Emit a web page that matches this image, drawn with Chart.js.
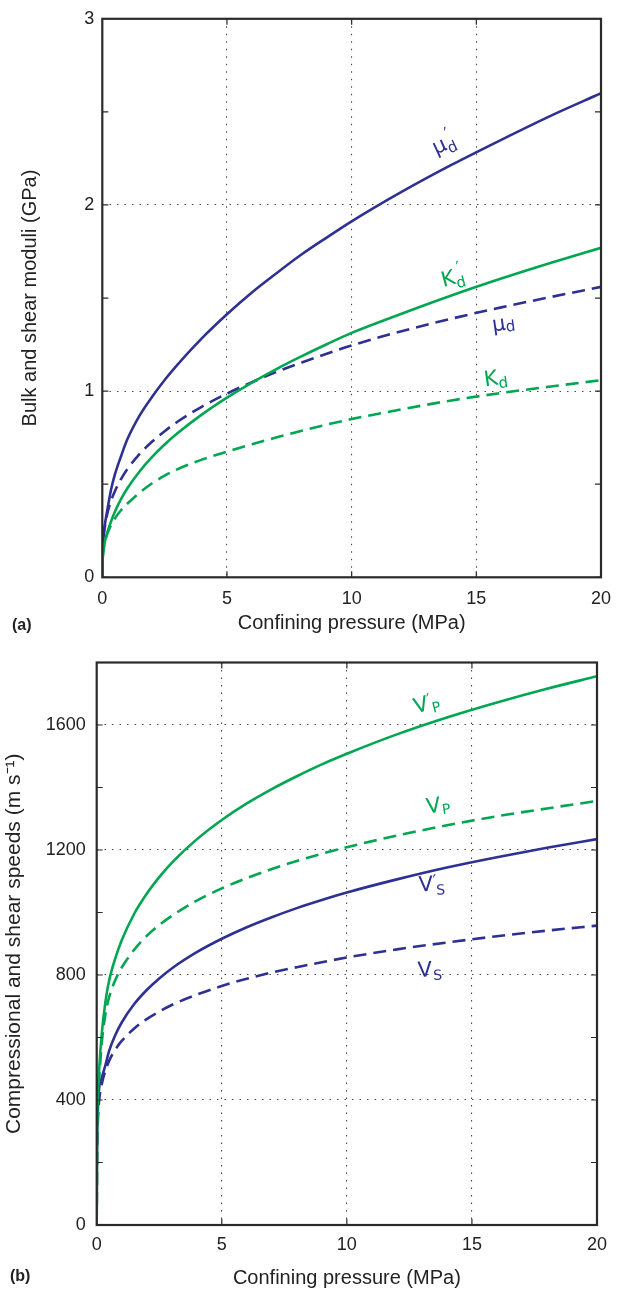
<!DOCTYPE html>
<html>
<head>
<meta charset="utf-8">
<script src="https://cdn.jsdelivr.net/npm/chart.js@4.4.0/dist/chart.umd.min.js"></script>
<style>
  html, body { margin: 0; padding: 0; background: #fff; }
  canvas { display: block; }
</style>
</head>
<body>
<canvas id="modChart" width="626" height="640"></canvas>
<canvas id="speedChart" width="626" height="651"></canvas>
<script>
// confining pressure, MPa (shared x samples)
const pressure = [0, 0.01, 0.05, 0.1, 0.2, 0.35, 0.5, 0.75, 1, 1.5, 2, 2.5, 3, 4, 5, 6, 7, 8, 9, 10, 12, 14, 16, 18, 20];

// (a) bulk and shear moduli, GPa
const muDPrime = [0, 0.10, 0.22, 0.28, 0.36, 0.47, 0.55, 0.65, 0.74, 0.87, 0.97, 1.06, 1.14, 1.285, 1.413, 1.53, 1.635, 1.735, 1.825, 1.912, 2.07, 2.215, 2.35, 2.48, 2.60];
const kDPrime  = [0, 0.08, 0.15, 0.19, 0.24, 0.30, 0.351, 0.42, 0.477, 0.57, 0.647, 0.713, 0.772, 0.875, 0.965, 1.046, 1.12, 1.188, 1.252, 1.313, 1.416, 1.514, 1.605, 1.69, 1.77];
const muD      = [0, 0.127, 0.216, 0.271, 0.341, 0.41, 0.461, 0.527, 0.58, 0.663, 0.729, 0.785, 0.834, 0.917, 0.987, 1.048, 1.104, 1.154, 1.201, 1.245, 1.322, 1.389, 1.45, 1.506, 1.56];
const kD       = [0, 0.07, 0.145, 0.185, 0.233, 0.28, 0.315, 0.36, 0.395, 0.455, 0.505, 0.546, 0.58, 0.632, 0.675, 0.715, 0.752, 0.787, 0.82, 0.85, 0.902, 0.95, 0.99, 1.025, 1.059];

// (b) compressional and shear speeds, m/s
const vpPrime = [0, 250, 420, 500, 610, 715, 783, 855, 911, 996, 1060, 1113, 1159, 1234, 1296, 1349, 1395, 1436, 1474, 1508, 1570, 1624, 1672, 1716, 1756];
const vp      = [0, 240, 410, 470, 580, 675, 730, 785, 824, 881, 925, 960, 989, 1038, 1077, 1110, 1139, 1165, 1188, 1209, 1246, 1279, 1308, 1333, 1357];
const vsPrime = [0, 200, 370, 440, 470, 512, 558, 609, 648, 707, 752, 789, 821, 873, 916, 953, 985, 1014, 1040, 1064, 1106, 1144, 1177, 1207, 1235];
const vs      = [0, 190, 340, 400, 450, 494, 526, 562, 589, 629, 659, 683, 704, 737, 765, 788, 808, 825, 841, 856, 882, 904, 924, 942, 958];

const modTicks = [0, 0.5, 1, 1.5, 2, 2.5];
const speedTicks = [200, 400, 600, 800, 1000, 1200, 1400, 1600];
const pressureTicks = [5, 10, 15];

const BLUE = '#2e3192';
const GREEN = '#00a651';
const FONT = '"Liberation Sans", Arial, sans-serif';

const pts = ys => pressure.map((x, i) => ({ x, y: ys[i] }));

function line(label, ys, color, dashed) {
  return {
    label, data: pts(ys), borderColor: color, borderWidth: 2.6,
    borderDash: dashed ? [13, 7] : [], pointRadius: 0,
    cubicInterpolationMode: 'monotone', fill: false
  };
}

// frame, inward tick marks, curve labels and panel tag
const frame = {
  id: 'frame',
  afterDatasetsDraw(chart, args, o) {
    const { ctx, chartArea: a, scales: { x, y } } = chart;
    ctx.save();
    ctx.strokeStyle = '#2a2a2a';
    ctx.lineWidth = 1.2;
    ctx.beginPath();
    o.xMarks.forEach(v => {
      const px = x.getPixelForValue(v);
      ctx.moveTo(px, a.bottom); ctx.lineTo(px, a.bottom - 6);
      ctx.moveTo(px, a.top); ctx.lineTo(px, a.top + 6);
    });
    o.yMarks.forEach(v => {
      const py = y.getPixelForValue(v);
      ctx.moveTo(a.left, py); ctx.lineTo(a.left + 6, py);
      ctx.moveTo(a.right, py); ctx.lineTo(a.right - 6, py);
    });
    ctx.stroke();
    ctx.lineWidth = 2.2;
    ctx.strokeRect(a.left, a.top, a.width, a.height);

    o.labels.forEach(l => {
      ctx.save();
      ctx.translate(x.getPixelForValue(l.x), y.getPixelForValue(l.y));
      ctx.rotate(l.rot * Math.PI / 180);
      ctx.fillStyle = l.color;
      ctx.textBaseline = 'alphabetic';
      let cx = 0;
      l.parts.forEach(p => {
        ctx.font = (p.size || 21) + 'px "DejaVu Sans", sans-serif';
        ctx.fillText(p.t, cx + (p.dx || 0), p.dy || 0);
        if (!p.keep) cx += ctx.measureText(p.t).width + (p.dx || 0);
      });
      ctx.restore();
    });

    ctx.font = 'bold 16px ' + FONT;
    ctx.fillStyle = '#222';
    ctx.textBaseline = 'middle';
    ctx.fillText(o.tag, o.tagX, o.tagY);
    ctx.restore();
  }
};

function gridColor(max) {
  return c => (c.tick && (c.tick.value === 0 || c.tick.value >= max)) ? 'rgba(0,0,0,0)' : '#4a4a4a';
}

function axes(yMax, yStep, yTitle, g) {
  return {
    x: {
      type: 'linear', min: 0, max: 20,
      afterFit: s => { s.height = g.xh; },
      ticks: { stepSize: 5, color: '#222', padding: g.xtp, font: { family: FONT, size: 18 } },
      grid: { color: gridColor(20), lineWidth: 1.1, drawTicks: false },
      border: { display: false, dash: [1.5, 6] },
      title: { display: true, text: 'Confining pressure (MPa)', color: '#222',
               padding: { top: 0, bottom: g.xtb }, font: { family: FONT, size: 20 } }
    },
    y: {
      min: 0, max: yMax,
      afterFit: s => { s.width = g.yw; },
      ticks: { stepSize: yStep, color: '#222', padding: g.ytp, font: { family: FONT, size: 18 },
               callback: v => (v % yStep === 0 ? v : '') },
      grid: { color: gridColor(yMax), lineWidth: 1.1, drawTicks: false },
      border: { display: false, dash: [1.5, 6] },
      title: { display: true, text: yTitle, color: '#222',
               padding: { top: g.ytt, bottom: 0 }, font: { family: FONT, size: g.yts } }
    }
  };
}

new Chart(document.getElementById('modChart'), {
  type: 'line',
  data: {
    datasets: [
      line("Kd'", kDPrime, GREEN, false),
      line('Kd', kD, GREEN, true),
      line("μd'", muDPrime, BLUE, false),
      line('μd', muD, BLUE, true)
    ]
  },
  options: {
    responsive: false, animation: false,
    layout: { padding: { left: 0, right: 25, top: 16.5, bottom: 0 } },
    plugins: {
      legend: { display: false }, tooltip: { enabled: false },
      frame: {
        xMarks: pressureTicks, yMarks: modTicks, tag: '(a)', tagX: 12, tagY: 626,
        labels: [
          { x: 13.38, y: 2.27, rot: -25, color: BLUE, parts: [{ t: 'μ' }, { t: '′', size: 17, dx: 4, dy: -9, keep: true }, { t: 'd', size: 15, dy: 5 }] },
          { x: 13.67, y: 1.56, rot: -15, color: GREEN, parts: [{ t: 'K' }, { t: '′', size: 17, dx: 4, dy: -9, keep: true }, { t: 'd', size: 15, dy: 5 }] },
          { x: 15.67, y: 1.32, rot: -8, color: BLUE, parts: [{ t: 'μ' }, { t: 'd', size: 15, dy: 2 }] },
          { x: 15.35, y: 1.026, rot: -8, color: GREEN, parts: [{ t: 'K' }, { t: 'd', size: 15, dy: 4 }] }
        ]
      }
    },
    scales: axes(3, 1, 'Bulk and shear moduli (GPa)', { xh: 62.7, xtp: 11, xtb: 5, yw: 102.3, ytp: 8, ytt: 18, yts: 20 })
  },
  plugins: [frame]
});

new Chart(document.getElementById('speedChart'), {
  type: 'line',
  data: {
    datasets: [
      line("V'P", vpPrime, GREEN, false),
      line('VP', vp, GREEN, true),
      line("V'S", vsPrime, BLUE, false),
      line('VS', vs, BLUE, true)
    ]
  },
  options: {
    responsive: false, animation: false,
    layout: { padding: { left: 0, right: 29, top: 22.5, bottom: 0 } },
    plugins: {
      legend: { display: false }, tooltip: { enabled: false },
      frame: {
        xMarks: pressureTicks, yMarks: speedTicks, tag: '(b)', tagX: 10, tagY: 637,
        labels: [
          { x: 12.75, y: 1637, rot: -15, color: GREEN, parts: [{ t: 'V' }, { t: '′', size: 17, dx: 0, dy: -4, keep: true }, { t: 'P', size: 14, dx: 3, dy: 4 }] },
          { x: 13.21, y: 1317, rot: -8, color: GREEN, parts: [{ t: 'V' }, { t: 'P', size: 14, dx: 1, dy: 3 }] },
          { x: 12.88, y: 1067, rot: -3, color: BLUE, parts: [{ t: 'V' }, { t: '′', size: 17, dx: 0, dy: -4, keep: true }, { t: 'S', size: 14, dx: 3, dy: 4 }] },
          { x: 12.84, y: 794, rot: -3, color: BLUE, parts: [{ t: 'V' }, { t: 'S', size: 14, dx: 1, dy: 4 }] }
        ]
      }
    },
    scales: axes(1800, 400, 'Compressional and shear speeds (m s⁻¹)', { xh: 66, xtp: 9, xtb: 1, yw: 96.7, ytp: 11, ytt: 2, yts: 21 })
  },
  plugins: [frame]
});
</script>
</body>
</html>
